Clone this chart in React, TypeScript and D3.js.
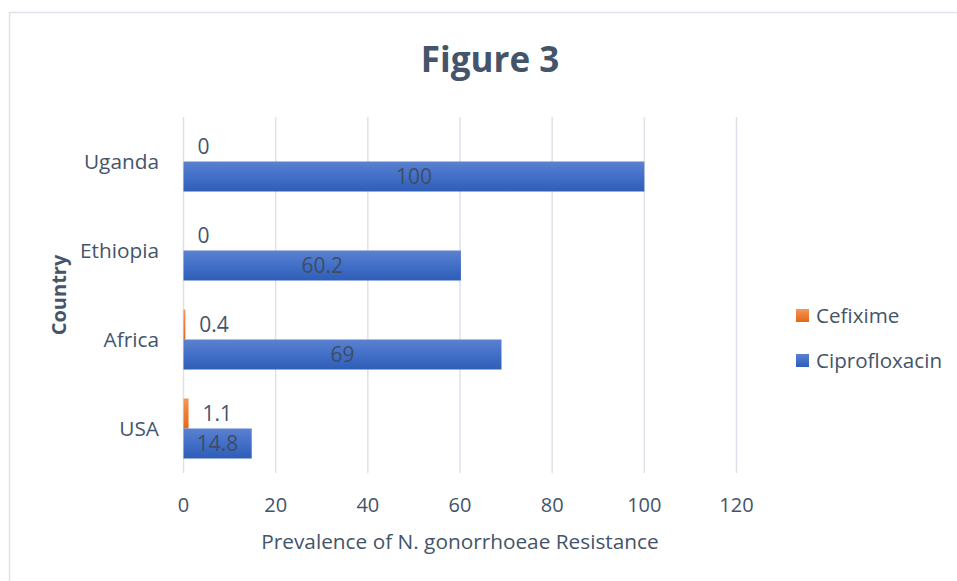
import React from "react";
import * as d3 from "d3";

// Resistance prevalence (%) by region
const countries = ["Uganda", "Ethiopia", "Africa", "USA"];
const cefixime = [0, 0, 0.4, 1.1];
const ciprofloxacin = [100, 60.2, 69, 14.8];
const seriesNames = ["Cefixime", "Ciprofloxacin"];
const xTicks = [0, 20, 40, 60, 80, 100, 120];

const W = 957;
const H = 581;
const FONT = "'Open Sans', 'Noto Sans', sans-serif";
const TEXT = "#44546a";

export default function App() {
  const x = d3.scaleLinear().domain([0, 120]).range([183.5, 736.5]);
  const y = d3.scaleBand<string>().domain(countries).range([117, 473]);
  const barH = 30;
  const series = [cefixime, ciprofloxacin];
  const fills = ["url(#gradOrange)", "url(#gradBlue)"];

  return (
    <svg
      width={W}
      height={H}
      style={{ position: "absolute", left: 0, top: 0, background: "#fff" }}
      fontFamily={FONT}
    >
      <defs>
        <linearGradient id="gradBlue" x1="0" y1="0" x2="0" y2="1">
          <stop offset="0" stopColor="#5b81d0" />
          <stop offset="0.5" stopColor="#426fc8" />
          <stop offset="1" stopColor="#2f5eb7" />
        </linearGradient>
        <linearGradient id="gradOrange" x1="0" y1="0" x2="0" y2="1">
          <stop offset="0" stopColor="#f4975c" />
          <stop offset="0.5" stopColor="#ee7d33" />
          <stop offset="1" stopColor="#e0691c" />
        </linearGradient>
      </defs>

      {/* chart area frame, running past the page edges on the right and bottom */}
      <rect x={9.5} y={12.5} width={980} height={600} fill="#fff" stroke="#dde1e8" strokeWidth={1.5} />

      <text x={490} y={72} textAnchor="middle" fontSize={35} fontWeight={700} fill={TEXT}>
        Figure 3
      </text>

      {/* vertical gridlines */}
      {xTicks.map((t) => (
        <line
          key={t}
          x1={x(t)}
          x2={x(t)}
          y1={117}
          y2={473}
          stroke="#dde2ea"
          strokeWidth={1.5}
        />
      ))}

      {/* bars */}
      {countries.map((c, i) => {
        const band = y(c)!;
        const top = band + (y.bandwidth() - barH * 2) / 2;
        return (
          <g key={c}>
            {series.map((s, k) => {
              const by = top + k * barH;
              const v = s[i];
              return (
                <g key={k}>
                  <rect x={x(0)} y={by} width={x(v) - x(0)} height={barH} fill={fills[k]} />
                  {k === 0 ? (
                    <text
                      x={x(v) + 14}
                      y={by + barH / 2}
                      dy="0.35em"
                      fontSize={21}
                      fill={TEXT}
                    >
                      {v}
                    </text>
                  ) : (
                    <text
                      x={(x(0) + x(v)) / 2}
                      y={by + barH / 2}
                      dy="0.35em"
                      textAnchor="middle"
                      fontSize={21}
                      fill="#3f4d63"
                    >
                      {v}
                    </text>
                  )}
                </g>
              );
            })}
            <text
              x={159}
              y={band + y.bandwidth() / 2}
              dy="0.35em"
              textAnchor="end"
              fontSize={20.8}
              fill={TEXT}
            >
              {c}
            </text>
          </g>
        );
      })}

      {/* x tick labels */}
      {xTicks.map((t) => (
        <text key={t} x={x(t)} y={505} dy="0.35em" textAnchor="middle" fontSize={20} fill={TEXT}>
          {t}
        </text>
      ))}

      <text x={460} y={542} dy="0.35em" textAnchor="middle" fontSize={20.8} fill={TEXT}>
        Prevalence of N. gonorrhoeae Resistance
      </text>

      <text
        transform="translate(59,295) rotate(-90)"
        dy="0.35em"
        textAnchor="middle"
        fontSize={20}
        fontWeight={700}
        fill={TEXT}
      >
        Country
      </text>

      {/* legend */}
      {seriesNames.map((n, k) => (
        <g key={n} transform={`translate(796, ${316 + k * 45})`}>
          <rect x={0} y={-7} width={13} height={13} fill={fills[k]} />
          <text x={20} y={0} dy="0.35em" fontSize={20.6} fill={TEXT}>
            {n}
          </text>
        </g>
      ))}
    </svg>
  );
}
